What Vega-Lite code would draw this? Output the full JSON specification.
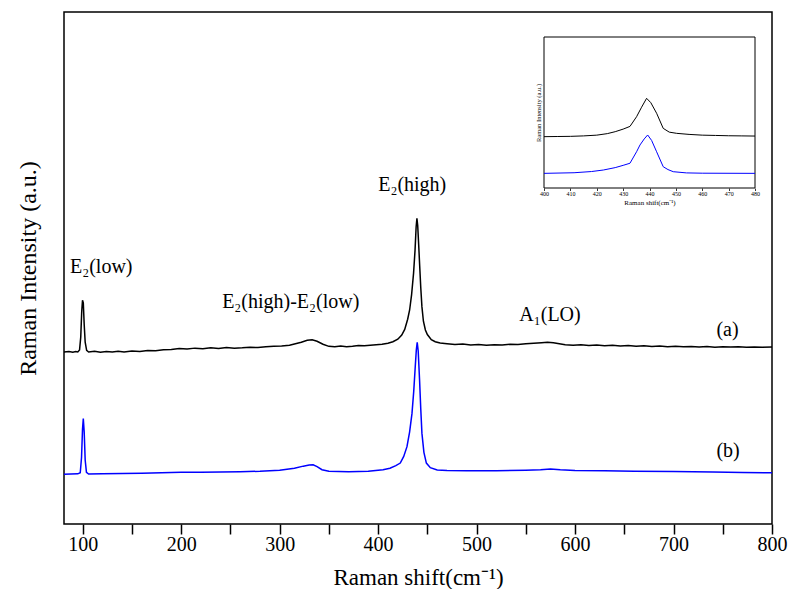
{
"$schema":"https://vega.github.io/schema/vega-lite/v6.json",
"width":708,"height":512,"autosize":"none",
"padding":{"left":64,"top":12,"right":18,"bottom":65},
"background":"white",
"config":{"view":{"stroke":"black","strokeWidth":1.5},"font":"Liberation Serif","axis":{"grid":false,"labelColor":"black","titleColor":"black","domainColor":"black","tickColor":"black","titleFontWeight":"normal","labelFont":"Liberation Serif","titleFont":"Liberation Serif"}},
"datasets":{
"main":[
{"s":"a","x":81,"y":33.6},{"s":"a","x":86,"y":33.7},{"s":"a","x":90,"y":33.55},{"s":"a","x":93,"y":33.7},{"s":"a","x":95,"y":33.6},{"s":"a","x":96.8,"y":34.0},{"s":"a","x":98,"y":36.5},{"s":"a","x":99,"y":41.5},{"s":"a","x":99.8,"y":43.7},{"s":"a","x":100.6,"y":43.2},{"s":"a","x":101.5,"y":39.0},{"s":"a","x":102.5,"y":35.5},{"s":"a","x":104,"y":33.9},{"s":"a","x":106,"y":33.6},{"s":"a","x":112,"y":33.75},{"s":"a","x":118,"y":33.55},{"s":"a","x":124,"y":33.7},{"s":"a","x":130,"y":33.6},{"s":"a","x":136,"y":33.75},{"s":"a","x":142,"y":33.6},{"s":"a","x":150,"y":33.8},{"s":"a","x":158,"y":33.7},{"s":"a","x":166,"y":33.9},{"s":"a","x":174,"y":33.85},{"s":"a","x":182,"y":34.05},{"s":"a","x":190,"y":34.1},{"s":"a","x":198,"y":34.3},{"s":"a","x":206,"y":34.2},{"s":"a","x":214,"y":34.35},{"s":"a","x":222,"y":34.25},{"s":"a","x":230,"y":34.4},{"s":"a","x":238,"y":34.3},{"s":"a","x":246,"y":34.45},{"s":"a","x":254,"y":34.35},{"s":"a","x":262,"y":34.4},{"s":"a","x":270,"y":34.5},{"s":"a","x":278,"y":34.45},{"s":"a","x":286,"y":34.6},{"s":"a","x":294,"y":34.7},{"s":"a","x":302,"y":34.75},{"s":"a","x":310,"y":34.9},{"s":"a","x":316,"y":35.2},{"s":"a","x":322,"y":35.5},{"s":"a","x":328,"y":35.9},{"s":"a","x":333,"y":36.0},{"s":"a","x":338,"y":35.7},{"s":"a","x":344,"y":35.1},{"s":"a","x":350,"y":34.7},{"s":"a","x":356,"y":34.6},{"s":"a","x":362,"y":34.75},{"s":"a","x":368,"y":34.6},{"s":"a","x":374,"y":34.7},{"s":"a","x":380,"y":34.85},{"s":"a","x":386,"y":34.8},{"s":"a","x":392,"y":34.9},{"s":"a","x":398,"y":35.0},{"s":"a","x":404,"y":35.1},{"s":"a","x":410,"y":35.3},{"s":"a","x":415,"y":35.6},{"s":"a","x":420,"y":36.1},{"s":"a","x":424,"y":36.9},{"s":"a","x":427,"y":38.0},{"s":"a","x":430,"y":40.0},{"s":"a","x":432,"y":41.8},{"s":"a","x":434,"y":44.8},{"s":"a","x":436,"y":49.0},{"s":"a","x":437.5,"y":53.5},{"s":"a","x":438.6,"y":58.0},{"s":"a","x":439.4,"y":59.7},{"s":"a","x":440.2,"y":58.3},{"s":"a","x":441.2,"y":54.5},{"s":"a","x":442.2,"y":50.5},{"s":"a","x":443.3,"y":46.2},{"s":"a","x":444.5,"y":42.4},{"s":"a","x":446,"y":39.6},{"s":"a","x":448,"y":37.9},{"s":"a","x":450,"y":37.0},{"s":"a","x":454,"y":36.0},{"s":"a","x":458,"y":35.6},{"s":"a","x":463,"y":35.35},{"s":"a","x":470,"y":35.2},{"s":"a","x":478,"y":35.05},{"s":"a","x":486,"y":35.15},{"s":"a","x":494,"y":34.95},{"s":"a","x":502,"y":35.05},{"s":"a","x":510,"y":34.9},{"s":"a","x":518,"y":35.0},{"s":"a","x":526,"y":34.95},{"s":"a","x":534,"y":35.1},{"s":"a","x":542,"y":35.05},{"s":"a","x":550,"y":35.2},{"s":"a","x":558,"y":35.3},{"s":"a","x":566,"y":35.4},{"s":"a","x":572,"y":35.5},{"s":"a","x":578,"y":35.4},{"s":"a","x":584,"y":35.2},{"s":"a","x":590,"y":35.0},{"s":"a","x":598,"y":34.9},{"s":"a","x":606,"y":35.0},{"s":"a","x":614,"y":34.85},{"s":"a","x":622,"y":34.95},{"s":"a","x":630,"y":34.8},{"s":"a","x":638,"y":34.9},{"s":"a","x":646,"y":34.75},{"s":"a","x":654,"y":34.85},{"s":"a","x":662,"y":34.7},{"s":"a","x":670,"y":34.8},{"s":"a","x":678,"y":34.65},{"s":"a","x":686,"y":34.75},{"s":"a","x":694,"y":34.6},{"s":"a","x":702,"y":34.7},{"s":"a","x":710,"y":34.6},{"s":"a","x":718,"y":34.65},{"s":"a","x":726,"y":34.55},{"s":"a","x":734,"y":34.65},{"s":"a","x":742,"y":34.5},{"s":"a","x":750,"y":34.6},{"s":"a","x":758,"y":34.55},{"s":"a","x":766,"y":34.6},{"s":"a","x":774,"y":34.5},{"s":"a","x":782,"y":34.55},{"s":"a","x":790,"y":34.5},{"s":"a","x":800,"y":34.55},
{"s":"b","x":81,"y":9.7},{"s":"b","x":88,"y":9.75},{"s":"b","x":95,"y":9.8},{"s":"b","x":97.5,"y":10.0},{"s":"b","x":98.8,"y":13.0},{"s":"b","x":99.8,"y":18.5},{"s":"b","x":100.6,"y":20.6},{"s":"b","x":101.5,"y":18.0},{"s":"b","x":102.5,"y":12.5},{"s":"b","x":103.8,"y":10.1},{"s":"b","x":106,"y":9.75},{"s":"b","x":120,"y":9.8},{"s":"b","x":140,"y":9.85},{"s":"b","x":160,"y":9.9},{"s":"b","x":180,"y":10.0},{"s":"b","x":200,"y":10.1},{"s":"b","x":220,"y":10.1},{"s":"b","x":240,"y":10.15},{"s":"b","x":260,"y":10.2},{"s":"b","x":280,"y":10.3},{"s":"b","x":300,"y":10.5},{"s":"b","x":315,"y":10.9},{"s":"b","x":324,"y":11.3},{"s":"b","x":330,"y":11.5},{"s":"b","x":334,"y":11.55},{"s":"b","x":338,"y":11.2},{"s":"b","x":343,"y":10.6},{"s":"b","x":350,"y":10.3},{"s":"b","x":370,"y":10.2},{"s":"b","x":390,"y":10.3},{"s":"b","x":405,"y":10.6},{"s":"b","x":412,"y":10.9},{"s":"b","x":418,"y":11.4},{"s":"b","x":422.5,"y":11.9},{"s":"b","x":426,"y":13.2},{"s":"b","x":429.3,"y":15.1},{"s":"b","x":432,"y":18.0},{"s":"b","x":434.4,"y":21.6},{"s":"b","x":436.2,"y":26.0},{"s":"b","x":437.7,"y":30.7},{"s":"b","x":438.8,"y":34.0},{"s":"b","x":439.7,"y":35.5},{"s":"b","x":440.7,"y":33.8},{"s":"b","x":442.1,"y":28.1},{"s":"b","x":443.3,"y":22.5},{"s":"b","x":444.5,"y":17.7},{"s":"b","x":446.5,"y":14.0},{"s":"b","x":449,"y":11.9},{"s":"b","x":453,"y":11.0},{"s":"b","x":460,"y":10.55},{"s":"b","x":470,"y":10.45},{"s":"b","x":490,"y":10.4},{"s":"b","x":520,"y":10.4},{"s":"b","x":550,"y":10.5},{"s":"b","x":565,"y":10.6},{"s":"b","x":575,"y":10.75},{"s":"b","x":585,"y":10.6},{"s":"b","x":600,"y":10.45},{"s":"b","x":630,"y":10.4},{"s":"b","x":660,"y":10.3},{"s":"b","x":700,"y":10.25},{"s":"b","x":740,"y":10.15},{"s":"b","x":770,"y":10.05},{"s":"b","x":800,"y":10.0}
],
"inset":[
{"s":"a","x":400,"y":34.0},{"s":"a","x":405,"y":34.1},{"s":"a","x":410,"y":34.2},{"s":"a","x":415,"y":34.5},{"s":"a","x":420,"y":35.0},{"s":"a","x":424,"y":36.0},{"s":"a","x":427,"y":37.3},{"s":"a","x":430,"y":39.0},{"s":"a","x":432.6,"y":40.8},{"s":"a","x":435.1,"y":47.2},{"s":"a","x":437,"y":53.5},{"s":"a","x":438.9,"y":59.4},{"s":"a","x":440.5,"y":56.5},{"s":"a","x":442.7,"y":49.5},{"s":"a","x":445.2,"y":39.5},{"s":"a","x":447.5,"y":37.0},{"s":"a","x":450.3,"y":36.2},{"s":"a","x":455,"y":35.5},{"s":"a","x":460,"y":35.0},{"s":"a","x":465,"y":34.8},{"s":"a","x":470,"y":34.6},{"s":"a","x":475,"y":34.5},{"s":"a","x":480,"y":34.4},
{"s":"b","x":400,"y":9.7},{"s":"b","x":411.4,"y":10.1},{"s":"b","x":418,"y":10.9},{"s":"b","x":422.5,"y":11.9},{"s":"b","x":427,"y":13.5},{"s":"b","x":430,"y":15.0},{"s":"b","x":432.6,"y":16.4},{"s":"b","x":435.1,"y":24.0},{"s":"b","x":436.4,"y":28.5},{"s":"b","x":438,"y":32.5},{"s":"b","x":439.3,"y":35.1},{"s":"b","x":440.8,"y":31.5},{"s":"b","x":442.7,"y":24.0},{"s":"b","x":445.2,"y":14.1},{"s":"b","x":447,"y":12.2},{"s":"b","x":449,"y":10.8},{"s":"b","x":454,"y":10.0},{"s":"b","x":460,"y":9.8},{"s":"b","x":480,"y":9.7}
],
"notes":[
{"t":"E₂(low)","x":87.1,"y":49.0},
{"t":"E₂(high)-E₂(low)","x":241.6,"y":42.2},
{"t":"E₂(high)","x":400.1,"y":65.0},
{"t":"A₁(LO)","x":543.4,"y":39.6},
{"t":"(a)","x":743.6,"y":36.7},
{"t":"(b)","x":743.6,"y":13.1}
],
"frame":[{"x1":400,"x2":480,"y1":0,"y2":100}]
},
"layer":[
{"layer":[
{"data":{"name":"main"},"mark":{"type":"line","strokeWidth":1.5},
"encoding":{
"x":{"field":"x","type":"quantitative","scale":{"domain":[81,800],"nice":false,"zero":false},
"axis":{"values":[100,150,200,250,300,350,400,450,500,550,600,650,700,750,800],"labelExpr":"datum.value % 100 === 0 ? datum.label : ''","tickSize":10,"tickWidth":1.5,"encode":{"ticks":{"update":{"y2":{"signal":"datum.value % 100 === 0 ? -10 : -5"}}}},"labelFontSize":20,"labelPadding":0,"labelFlush":false,"labelOverlap":false,"domain":false,"title":"Raman shift(cm⁻¹)","titleFontSize":23,"titlePadding":12}},
"y":{"field":"y","type":"quantitative","scale":{"domain":[0,100],"nice":false},
"axis":{"ticks":false,"labels":false,"domain":false,"title":"Raman Intensity (a.u.)","titleFontSize":24,"titlePadding":24}},
"color":{"field":"s","type":"nominal","scale":{"domain":["a","b"],"range":["#000000","#0000ff"]},"legend":null}}},
{"data":{"name":"notes"},"mark":{"type":"text","align":"left","baseline":"alphabetic","fontSize":20,"font":"Liberation Serif","color":"black"},
"encoding":{"x":{"field":"x","type":"quantitative"},"y":{"field":"y","type":"quantitative"},"text":{"field":"t"}}}
]},
{"layer":[
{"data":{"name":"frame"},"mark":{"type":"rect","fillOpacity":0,"stroke":"black","strokeWidth":1},
"encoding":{
"x":{"field":"x1","type":"quantitative","scale":{"domain":[400,480],"range":[480,691],"nice":false,"zero":false},
"axis":{"orient":"bottom","offset":-336,"values":[400,410,420,430,440,450,460,470,480],"tickSize":2.5,"tickWidth":0.8,"encode":{"ticks":{"update":{"y2":{"value":-2.5}}}},"labelFontSize":6,"labelPadding":0,"labelFlush":false,"labelOverlap":false,"domain":false,"title":"Raman shift(cm⁻¹)","titleFontSize":7,"titlePadding":2}},
"x2":{"field":"x2"},
"y":{"field":"y1","type":"quantitative","scale":{"domain":[0,100],"range":[176,25],"nice":false,"zero":false},
"axis":{"orient":"left","offset":-480,"ticks":false,"labels":false,"domain":false,"title":"Raman Intensity (a.u.)","titleFontSize":6.5,"titlePadding":3}},
"y2":{"field":"y2"}}},
{"data":{"name":"inset"},"mark":{"type":"line","strokeWidth":1},
"encoding":{"x":{"field":"x","type":"quantitative"},"y":{"field":"y","type":"quantitative"},
"color":{"field":"s","type":"nominal","scale":{"domain":["a","b"],"range":["#000000","#0000ff"]},"legend":null}}}
]}
],
"resolve":{"scale":{"x":"independent","y":"independent"}}
}
